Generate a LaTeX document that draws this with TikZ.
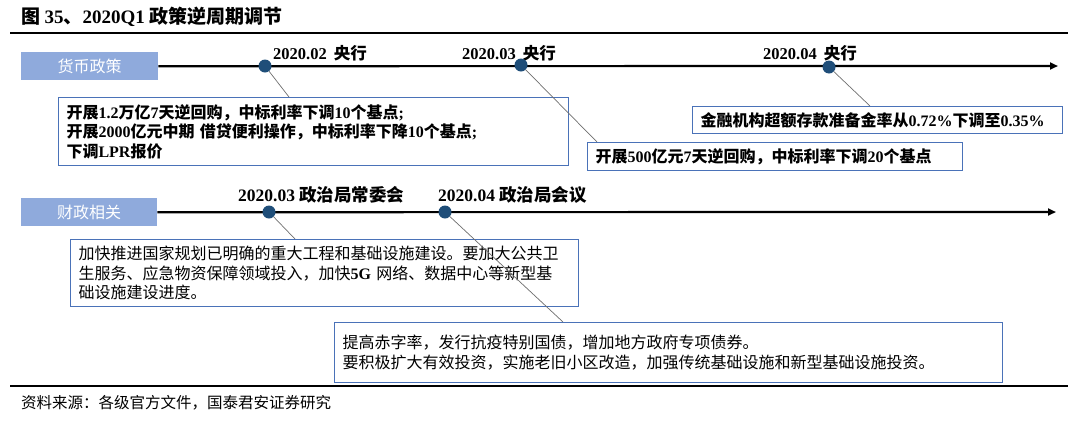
\documentclass[tikz,border=0pt]{standalone}
\usepackage{fontspec}
\setmainfont{Liberation Serif}
\newfontfamily\cjk{Noto Sans CJK SC}
\usetikzlibrary{arrows.meta}
\definecolor{lblue}{HTML}{8FAADC}
\definecolor{dotblue}{HTML}{1F4E79}
\definecolor{boxline}{HTML}{4A72B8}
\definecolor{connc}{HTML}{6E6E6E}
\newcommand{\e}[1]{{\rmfamily\bfseries #1}}
\begin{document}
\begin{tikzpicture}[x=1pt,y=-1pt,
  txt/.style={font=\cjk\bfseries\fontsize{16}{19.5}\selectfont},
  txtr/.style={font=\cjk\fontsize{16}{19.5}\selectfont},
  textbox/.style={draw=boxline, line width=1.1, fill=white, anchor=north west,
    align=left, inner xsep=8, inner ysep=0, txt},
  catbox/.style={fill=lblue, text=white, inner sep=0, anchor=north west,
    font=\cjk\fontsize{16}{19}\selectfont},
  datelab/.style={anchor=west, inner sep=0, font=\cjk\bfseries\fontsize{16.5}{20}\selectfont},
  datelabb/.style={anchor=west, inner sep=0, font=\cjk\bfseries\fontsize{17.5}{21}\selectfont},
  timeline/.style={line width=2.2, -{Triangle[length=8,width=7]}},
  dot/.style={circle, fill=dotblue, minimum size=13, inner sep=0},
  conn/.style={draw=connc, line width=0.7},
  rule/.style={line width=1.8}
]
\useasboundingbox (0,0) rectangle (1080,421);

% title and rules
\node[anchor=west, inner sep=0, font=\cjk\bfseries\fontsize{19}{23}\selectfont] (title) at (21,17)
  {图\ \e{35}、\e{2020Q1} 政策逆周期调节};
\draw[rule] (10,33) -- (1068,33);
\draw[rule] (10,386) -- (1068,386);
\node[anchor=west, inner sep=0, font=\cjk\fontsize{15.5}{18}\selectfont] (src) at (21,403)
  {资料来源：各级官方文件，国泰君安证券研究};

% ---------- monetary policy ----------
\node[catbox, minimum width=137, minimum height=28] (cat1) at (21,52) {货币政策};
\coordinate (end1) at (1058,66);
\draw[timeline] (cat1.east) -- (end1);

\node[datelab] (t1) at (273,53) {\e{2020.02}\hspace{7pt}央行};
\node[datelab] (t2) at (462,53) {\e{2020.03}\hspace{7pt}央行};
\node[datelab] (t3) at (763,53) {\e{2020.04}\hspace{7pt}央行};

\node[textbox, text width=494, minimum height=68] (b1) at (58,97)
  {开展\e{1.2}万亿\e{7}天逆回购，中标利率下调\e{10}个基点\e{;}\\
   开展\e{2000}亿元中期 借贷便利操作，中标利率下降\e{10}个基点\e{;}\\
   下调\e{LPR}报价};
\node[textbox, text width=359, minimum height=28] (b2) at (587,142)
  {开展\e{500}亿元\e{7}天逆回购，中标利率下调\e{20}个基点};
\node[textbox, text width=354, minimum height=27] (b3) at (692,106)
  {金融机构超额存款准备金率从\e{0.72\%}下调至\e{0.35\%}};

\node[dot] (d1) at (265,66) {};
\node[dot] (d2) at (521,65) {};
\node[dot] (d3) at (829,67) {};
\coordinate (c1) at (289,97);
\coordinate (c2) at (597,142);
\coordinate (c3) at (870,106);
\draw[conn] (d1) -- (c1);
\draw[conn] (d2) -- (c2);
\draw[conn] (d3) -- (c3);

% ---------- fiscal policy ----------
\node[catbox, minimum width=136, minimum height=28] (cat2) at (21,198) {财政相关};
\coordinate (end2) at (1056,212);
\draw[timeline] (cat2.east) -- (end2);

\node[datelabb] (t4) at (238,195) {\e{2020.03} 政治局常委会};
\node[datelabb] (t5) at (438,195) {\e{2020.04} 政治局会议};

\node[textbox, txtr, text width=492, minimum height=67] (b4) at (70,239)
  {加快推进国家规划已明确的重大工程和基础设施建设。要加大公共卫\\
   生服务、应急物资保障领域投入，加快\e{5G} 网络、数据中心等新型基\\
   础设施建设进度。};
\node[textbox, txtr, text width=652, minimum height=60] (b5) at (334,322)
  {提高赤字率，发行抗疫特别国债，增加地方政府专项债券。\\
   要积极扩大有效投资，实施老旧小区改造，加强传统基础设施和新型基础设施投资。};

\node[dot] (d4) at (269,212) {};
\node[dot] (d5) at (445,212) {};
\coordinate (c4) at (295,239);
\coordinate (c5) at (563,322);
\draw[conn] (d4) -- (c4);
\draw[conn] (d5) -- (c5);
\end{tikzpicture}
\end{document}
